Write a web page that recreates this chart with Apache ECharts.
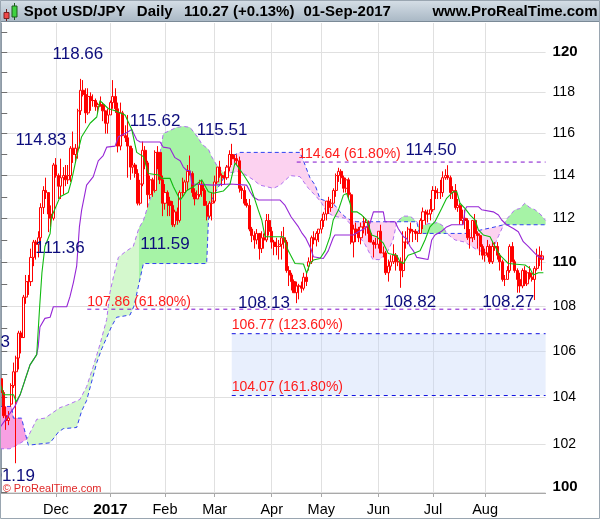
<!DOCTYPE html>
<html><head><meta charset="utf-8">
<script src="https://cdn.jsdelivr.net/npm/echarts@6/dist/echarts.min.js"></script>
<style>html,body{margin:0;padding:0;background:#fff}#c{width:600px;height:519px}</style>
</head><body><div id="c"></div>
<script>
// x = trading-day index, 0 = 01-Nov-2016
const monthStarts = [22,44,66,86,109,129,152,174,195];
const monthLabels = ['Dec','2017','Feb','Mar','Apr','May','Jun','Jul','Aug'];
const priceTicks = [100,101,102,103,104,105,106,107,108,109,110,111,112,113,114,115,116,117,118,119,120,121];
const priceLabels = [100,102,104,106,108,110,112,114,116,118,120];

// daily OHLC: [open, high, low, close]
const nov16 = [[104.8,104.9,104.0,104.2],[104.2,104.3,103.1,103.2],[103.2,103.6,102.6,103.0],[103.0,103.4,102.8,103.1],[103.7,104.6,103.6,104.5],[104.5,105.5,104.4,105.1],[105.1,105.8,101.19,105.7],[105.7,106.9,105.2,106.8],[106.8,106.9,105.9,106.6],[106.6,108.5,106.6,108.4],[108.4,109.4,108.1,109.1],[109.1,109.4,108.5,109.1],[109.1,110.6,108.9,110.2],[110.2,111.0,109.8,110.9],[110.9,111.0,110.1,110.8],[110.8,111.4,110.2,111.1],[111.1,112.7,110.9,112.5],[112.5,113.5,112.2,113.3],[113.3,113.9,112.9,113.2],[113.2,113.2,111.36,112.2],[112.2,112.6,111.6,112.0],[112.0,114.6,111.9,114.5]];
const dec16 = [[114.5,114.83,113.9,114.0],[114.0,114.1,112.9,113.5],[113.5,114.8,112.9,113.9],[113.9,114.4,113.1,114.0],[114.0,114.5,113.5,113.8],[113.8,114.5,113.6,114.0],[114.0,115.4,113.7,115.3],[115.3,116.1,114.6,115.0],[115.0,115.5,114.6,115.3],[115.3,117.2,114.8,117.1],[117.1,118.66,116.9,118.1],[118.1,118.6,117.8,117.9],[117.9,118.2,116.5,117.0],[117.0,118.2,116.9,117.8],[117.8,118.0,117.1,117.6],[117.6,117.9,117.3,117.6],[117.6,117.7,117.1,117.3],[117.3,117.5,117.0,117.4],[117.4,117.8,117.3,117.4],[117.4,117.5,116.6,117.1],[117.1,117.1,116.0,116.5],[116.5,117.2,116.0,116.9]];
const jan17 = [[116.9,117.6,116.9,117.5],[117.5,118.6,117.2,117.8],[117.8,118.2,117.0,117.2],[117.2,117.5,115.1,115.4],[115.4,117.5,115.2,117.0],[117.0,117.1,115.9,115.9],[115.9,116.4,115.6,115.8],[115.8,116.9,113.9,115.4],[115.4,115.4,113.8,114.4],[114.4,115.3,114.1,114.5],[114.5,114.6,113.9,114.1],[114.1,114.3,112.6,112.7],[112.7,113.8,112.6,113.6],[113.6,115.62,113.5,115.2],[115.2,115.4,114.3,114.6],[114.6,114.7,112.5,113.1],[113.1,114.0,112.9,113.8],[113.8,113.9,113.0,113.3],[113.3,115.2,113.2,115.1],[115.1,115.4,114.3,115.1],[115.1,115.1,113.6,113.8],[113.8,114.0,112.1,112.7]];
const feb17 = [[112.7,113.6,112.4,113.2],[113.2,113.3,112.1,112.8],[112.8,113.0,112.1,112.6],[112.6,112.8,111.6,111.7],[111.7,112.4,111.59,112.3],[112.3,112.5,111.7,111.9],[111.9,113.3,111.8,113.2],[113.2,113.9,113.0,113.2],[113.2,113.8,113.2,113.7],[113.7,114.5,113.3,114.2],[114.2,114.95,114.0,114.1],[114.1,114.2,113.0,113.2],[113.2,113.4,112.6,112.9],[112.9,113.3,112.9,113.1],[113.1,113.8,113.0,113.6],[113.6,113.8,113.0,113.3],[113.3,113.4,112.6,112.6],[112.6,112.8,111.9,112.1],[112.1,112.8,112.0,112.7],[112.7,113.2,111.9,112.8]];
const mar17 = [[112.8,114.0,112.7,113.7],[113.7,114.4,113.6,114.4],[114.4,114.7,113.9,114.0],[114.0,114.1,113.5,113.9],[113.9,114.2,113.6,113.9],[113.9,114.5,113.8,114.4],[114.4,115.2,114.2,115.0],[115.0,115.51,114.5,114.8],[114.8,115.0,114.6,114.8],[114.8,115.0,114.5,114.7],[114.7,114.9,113.2,113.4],[113.4,113.5,112.9,113.3],[113.3,113.5,112.6,112.7],[112.7,112.9,112.5,112.6],[112.6,112.9,111.4,111.5],[111.5,111.6,110.9,111.2],[111.2,111.4,110.6,111.0],[111.0,111.5,110.8,111.3],[111.3,111.3,110.1,110.6],[110.6,111.4,110.4,111.1],[111.1,111.3,110.6,111.0],[111.0,112.2,110.9,111.9],[111.9,112.2,111.2,111.4]];
const apr17 = [[111.4,111.6,110.6,110.9],[110.9,111.0,110.3,110.7],[110.7,111.1,110.3,110.7],[110.7,111.0,110.1,110.8],[110.8,111.4,110.1,111.1],[111.1,111.6,110.6,110.9],[110.9,111.0,109.5,109.6],[109.6,109.8,108.9,109.4],[109.4,109.5,108.7,109.1],[109.1,109.2,108.6,108.6],[108.6,109.1,108.13,108.9],[108.9,109.0,108.3,108.9],[108.9,109.1,108.6,108.8],[108.8,109.5,108.7,109.3],[109.3,109.5,108.9,109.1],[109.8,110.2,109.6,110.0],[110.0,111.2,109.9,111.1],[111.1,111.4,110.8,111.0],[111.0,111.4,110.7,111.3],[111.3,111.5,110.9,111.5]];
const may17 = [[111.5,112.0,111.3,111.9],[111.9,112.3,111.6,112.2],[112.2,112.8,111.9,112.8],[112.8,113.0,112.2,112.5],[112.5,112.9,112.3,112.7],[112.7,113.4,112.7,113.3],[113.3,114.1,113.0,114.0],[114.0,114.37,113.7,114.2],[114.2,114.3,113.6,113.9],[113.9,114.0,113.2,113.4],[113.4,113.9,113.2,113.8],[113.8,113.9,112.9,113.1],[113.1,113.2,110.8,110.9],[110.9,111.7,110.2,111.5],[111.5,111.8,110.9,111.3],[111.3,111.6,110.9,111.1],[111.1,111.8,110.8,111.6],[111.6,112.1,111.3,111.6],[111.6,112.0,111.2,111.8],[111.8,111.9,110.9,111.3],[111.3,111.4,110.9,110.9],[110.9,111.0,110.2,110.8],[110.8,111.1,110.6,110.8]];
const jun17 = [[110.8,111.4,110.6,111.4],[111.4,111.7,110.4,110.4],[110.4,110.7,110.2,110.4],[110.4,110.5,109.4,109.5],[109.5,110.1,109.1,109.8],[109.8,110.3,109.6,110.0],[110.0,110.8,109.9,110.3],[110.3,110.4,109.6,110.0],[110.0,110.3,109.8,110.0],[110.0,110.2,108.82,109.6],[109.6,111.4,109.3,110.9],[110.9,111.4,110.6,110.9],[110.9,111.6,110.8,111.5],[111.5,111.8,111.3,111.4],[111.4,111.5,110.9,111.4],[111.4,111.5,111.0,111.3],[111.3,111.4,110.9,111.3],[111.3,112.0,111.3,111.9],[111.9,112.5,111.5,112.3],[112.3,112.4,111.7,112.2],[112.2,112.4,111.8,112.2],[112.2,112.9,111.9,112.4]];
const jul17 = [[112.4,113.5,112.3,113.3],[113.3,113.5,112.9,113.2],[113.2,113.4,112.9,113.2],[113.2,113.8,112.9,113.2],[113.2,114.2,113.0,113.9],[113.9,114.3,113.8,114.0],[114.0,114.49,113.8,113.9],[113.9,114.0,112.9,113.2],[113.2,113.5,112.9,113.3],[113.3,113.6,112.4,112.5],[112.5,112.9,112.3,112.6],[112.6,112.7,111.7,111.9],[111.9,112.4,111.7,112.0],[112.0,112.4,111.5,111.9],[111.9,112.0,111.0,111.1],[111.1,111.5,110.6,111.1],[111.1,111.9,110.9,111.9],[111.9,112.2,111.0,111.3],[111.3,111.4,110.6,111.2],[111.2,111.3,110.3,110.7],[110.7,110.8,110.1,110.3]];
const aug17 = [[110.3,110.6,110.0,110.4],[110.4,111.0,110.2,110.7],[110.7,110.8,109.9,110.0],[110.0,110.9,109.9,110.7],[110.7,110.9,110.5,110.7],[110.7,110.9,110.1,110.3],[110.3,110.4,109.6,110.0],[110.0,110.1,109.1,109.2],[109.2,109.4,108.9,109.2],[109.2,109.8,109.2,109.6],[109.6,110.8,109.5,110.7],[110.7,110.9,110.0,110.0],[110.0,110.1,109.5,109.6],[109.6,109.7,108.6,109.2],[109.2,109.5,108.6,108.9],[108.9,109.7,108.8,109.6],[109.6,109.8,108.9,109.0],[109.0,109.6,108.9,109.5],[109.5,109.8,109.2,109.3],[109.3,109.5,109.1,109.2],[109.2,109.8,108.27,109.7],[109.7,110.6,109.6,110.3],[110.3,110.7,109.8,110.1]];
const sep17 = [[110.1,110.5,109.6,110.27]];

// Ichimoku lines: [day index, price]
const tenkan = [[-0.5,104.6],[1,104.1],[5,104.1],[6,103.8],[7.6,104.1],[9.6,104.75],[11.6,105.4],[14.3,105.85],[15.5,108.0],[16.4,109.5],[17.6,110.7],[19.7,111.3],[20.3,112.07],[23.7,113.0],[27,113.2],[28.4,113.8],[30.4,114.9],[32.4,115.85],[35.8,116.5],[38.5,116.8],[39.8,117.6],[43.2,117.2],[45.9,117.1],[49.9,116.9],[52.6,116.2],[54.6,115.1],[57.3,114.9],[59.3,114.1],[63.3,114.03],[64.7,113.87],[68,113.87],[69.4,113.47],[72.1,112.85],[73.1,113.0],[74.8,113.3],[77.4,113.47],[80.8,113.8],[83.5,113.24],[85.5,113.17],[89.5,113.27],[92.2,113.6],[94.2,114.6],[95.5,114.4],[97.6,114.05],[100.3,113.55],[102.3,112.85],[103.6,112.38],[105,111.92],[106.3,111.15],[113.7,111.15],[115.7,110.5],[118.4,109.92],[121.8,109.9],[123.1,109.48],[124.4,109.92],[125.8,110.08],[128.5,110.15],[130.5,110.5],[132.5,111.15],[133.8,111.92],[135.9,112.38],[137.9,113.08],[139.2,113.16],[140.6,112.7],[141.3,112.3],[143.3,112.3],[145.3,112.15],[147.3,111.92],[149.3,111.23],[151.3,111.15],[154,110.85],[156,110.38],[159.4,110.3],[160.7,110.0],[162.1,109.92],[164,110.3],[166.1,110.38],[168.8,110.5],[170.8,111.0],[172.8,111.6],[174.8,111.84],[177.5,112.46],[179.5,112.93],[182.2,113.24],[183.6,113.24],[184.9,112.7],[186.9,112.46],[189,112.15],[191,111.92],[192.3,111.46],[194.3,111.23],[197,111.15],[199,110.7],[201,110.3],[203,110.08],[204.4,109.92],[211.1,109.85],[213.1,109.7],[214.4,109.4],[216.5,109.5],[218.5,109.5]];
const kijun = [[-0.5,102.7],[5.5,103.6],[7.6,104.1],[9.6,104.75],[11.6,105.4],[14.3,105.85],[14.9,106.2],[15.6,107.07],[17.6,107.45],[19.7,107.5],[21,107.97],[26.4,107.97],[27.7,108.42],[29.1,109.07],[30.4,109.8],[31.5,111.6],[32.4,112.38],[34.4,113.55],[37.1,113.95],[39.1,114.7],[41.1,114.95],[42.5,115.35],[45.9,115.4],[47.2,115.85],[49.9,116.0],[52.6,116.2],[54.6,115.7],[56,115.6],[64,115.6],[65.3,115.35],[68,115.3],[70,114.85],[72.1,114.7],[73.4,114.4],[74.8,114.24],[76.1,114.24],[76.8,113.6],[85.5,113.55],[92.2,113.6],[98.9,113.55],[100.3,113.24],[101.6,113.0],[103.6,112.85],[112.4,112.85],[114.4,112.6],[116.8,112.07],[119.8,111.6],[121.3,111.3],[122.8,111.07],[124.8,110.6],[125.8,110.23],[129.8,110.15],[131.8,110.5],[133.8,111.1],[134.5,111.23],[141.9,111.23],[143.9,111.38],[146.6,111.53],[148.6,111.77],[150,112.3],[154,112.3],[154.7,111.84],[158.7,111.84],[160,111.53],[162.1,111.15],[163.4,111.07],[164.8,110.7],[166.1,110.5],[167.5,110.2],[172,110.1],[173.5,111.0],[174.8,111.23],[177.5,111.4],[179.5,111.6],[181.5,111.7],[186.2,111.7],[186.9,112.38],[187.6,112.54],[192.3,112.54],[193.6,112.4],[198.3,112.3],[200.4,112.15],[201.7,111.92],[203.7,111.7],[206.4,111.53],[208.4,111.38],[210.4,110.92],[212.4,110.7],[215.1,110.38],[216.5,110.23],[218.5,110.15]];
// Senkou span B (blue dashed) and span A (violet dashed)
const spanB = [[-0.5,103.6],[4.2,103.6],[4.9,103.1],[8.2,103.1],[10.3,102.2],[10.9,101.95],[19.7,102.05],[23,102.5],[25,102.65],[30.4,102.7],[32.4,103.4],[34.4,103.85],[38.5,105.5],[40.5,106.1],[42.5,106.6],[44.5,107.1],[46.5,107.5],[51.9,107.6],[53.5,108.0],[55.5,109.0],[57.3,109.92],[82.8,109.92],[83.5,111.9],[84.1,112.6],[86.2,113.2],[89.5,113.85],[90.3,114.1],[92.2,114.7],[93.5,114.95],[96.2,115.1],[120.4,115.1],[121.8,114.7],[124.4,113.9],[126.5,113.55],[128.5,112.9],[132.5,112.75],[134.5,112.6],[136.5,112.3],[138.6,112.07],[140.6,111.92],[143.3,111.84],[159.5,111.84],[167.5,111.84],[168.5,111.3],[179.5,111.3],[187.6,111.3],[191,111.4],[195,111.5],[199,111.6],[202.5,111.7],[219.4,111.7]];
const spanA = [[-0.5,101.8],[3.5,101.8],[6.2,101.95],[10.3,102.2],[14.3,103.05],[17.6,103.1],[23.7,103.55],[26.4,103.65],[31.7,103.9],[34.4,104.45],[37,105.3],[39.8,106.3],[42.5,107.4],[43.8,108.6],[45.2,109.3],[47.2,110.2],[49.9,110.45],[53.2,110.7],[55.5,111.55],[57.3,111.9],[60,112.9],[61.5,113.5],[64,115.05],[65.3,116.0],[70.7,116.3],[73.4,116.35],[76.1,116.3],[79.4,115.8],[80.8,115.5],[83.5,115.25],[84.8,114.9],[86.8,114.5],[88.9,114.2],[90.3,114.1],[93,114.15],[96.2,114.2],[99,114.0],[101.6,113.8],[104.3,113.55],[109.7,113.4],[112.4,113.55],[116.5,114.0],[120.4,113.95],[123.8,113.4],[127.1,113.0],[129.2,112.7],[131,112.3],[134,112.1],[138.6,112.0],[141,111.7],[143.4,111.3],[146.6,110.8],[149.8,110.1],[152.7,110.1],[155.9,110.5],[157.9,111.0],[159.5,111.84],[162,112.1],[164.8,112.1],[167.5,111.84],[168.5,111.6],[172,111.75],[176,111.8],[178,111.65],[179.5,111.3],[182.9,111.0],[186.9,110.9],[191,110.6],[195,110.4],[198.2,110.6],[200.5,111.2],[202.5,111.7],[204,112.0],[207,112.4],[209,112.45],[211,112.7],[213,112.5],[215.1,112.4],[217.2,112.2],[219.4,111.9]];
const cloudBreaks = [-0.5,10.3,55.5,90.3,159.5,179.5,202.5,219.4];

// horizontal levels: [start index, price]
const purpleLevels = [[119.1,114.64],[34.7,107.86]];
const blueLevels = [[92.9,106.77],[92.9,104.07]];
// annotations: [index, price, text]
const navyLabels = [[30.9,119.89,'118.66'],[16.0,115.69,'114.83'],[23.7,110.63,'111.36'],[62.0,116.61,'115.62'],[66.0,110.81,'111.59'],[89.0,116.17,'115.51'],[173.2,115.21,'114.50'],[105.9,108.14,'108.13'],[164.8,108.18,'108.82'],[204.3,108.18,'108.27']];
const navyCutLabels = [[3.53,106.40,'105.53'],[13.6,100.66,'101.19']];
const redLabels = [[119.73,115.02,'114.64 (61.80%)'],[34.69,108.19,'107.86 (61.80%)'],[92.89,107.155,'106.77 (123.60%)'],[92.89,104.424,'104.07 (161.80%)']];

const XMAX = 219.4;
const FONT = 'Liberation Sans';
const all = [].concat(nov16, dec16, jan17, feb17, mar17, apr17, may17, jun17, jul17, aug17, sep17);
const candleData = all.map((d, k) => [k, d[0], d[3], d[2], d[1]]);

function inRange(arr, a, b) { return arr.filter(p => p[0] >= a - 1e-9 && p[0] <= b + 1e-9); }
function mean(arr) { return arr.reduce((s, p) => s + p[1], 0) / arr.length; }

const chart = echarts.init(document.getElementById('c'), null, {renderer: 'canvas'});
const lineBase = {type: 'line', showSymbol: false, symbol: 'none', silent: true, animation: false};
const labelSeries = (rows, color, size, align) => ({
  type: 'scatter', z: 6, silent: true, symbolSize: 1, clip: false,
  itemStyle: {color: 'rgba(0,0,0,0)', opacity: 1},
  data: rows.map(d => ({value: [d[0], d[1]], label: {formatter: d[2]}})),
  label: {show: true, position: 'inside', color: color, opacity: 1, fontSize: size, fontFamily: FONT, align: align, verticalAlign: 'middle', textBorderWidth: 0}
});

const option = {
  animation: false,
  backgroundColor: '#ffffff',
  textStyle: {fontFamily: FONT},
  grid: {left: 0, top: 23, width: 545.6, height: 470},
  xAxis: {
    type: 'value', min: -0.5, max: XMAX,
    axisLine: {show: true, lineStyle: {color: '#a9a9a9'}},
    axisTick: {show: true, length: 4, lineStyle: {color: '#a9a9a9'}, customValues: monthStarts},
    axisLabel: {
      show: true, customValues: monthStarts, margin: 9, fontSize: 14.5, color: '#000', fontFamily: FONT,
      formatter: v => { const k = monthStarts.indexOf(Math.round(v)); const t = monthLabels[k] || ''; return k === 1 ? '{b|' + t + '}' : t; },
      rich: {b: {fontWeight: 'bold', fontSize: 15.5, fontFamily: FONT, color: '#000'}}
    },
    splitLine: {show: true, lineStyle: {color: '#e0e0e0', width: 1}}
  },
  yAxis: [{
    type: 'log', logBase: 10, min: 99.95, max: 121.44, position: 'right',
    axisLine: {show: true, lineStyle: {color: '#8e9aa6', width: 1}},
    axisTick: {show: true, length: 6, lineStyle: {color: '#707070'}, customValues: priceTicks},
    axisLabel: {
      show: true, margin: 7, color: '#000', fontSize: 14, fontFamily: FONT, customValues: priceLabels,
      formatter: v => { const r = Math.round(v); return r === 100 ? '{c|' + r + '}' : (r % 10 === 0 ? '{b|' + r + '}' : String(r)); },
      rich: {
        b: {fontWeight: 'bold', fontSize: 15, fontFamily: FONT, color: '#000'},
        c: {fontWeight: 'bold', fontSize: 15, fontFamily: FONT, color: '#000', padding: [0, 0, 9, 0]}
      }
    },
    splitLine: {show: false}
  }, {
    type: 'log', logBase: 10, min: 99.95, max: 121.44, position: 'right',
    axisLine: {show: false},
    axisTick: {show: false, customValues: priceLabels},
    axisLabel: {show: false, customValues: priceLabels},
    splitLine: {show: true, lineStyle: {color: '#e0e0e0', width: 1}}
  }],
  series: [
    {
      type: 'custom', name: 'cloud', z: 1, silent: true, clip: true,
      data: cloudBreaks.slice(0, -1).map(a => [a, 110]),
      encode: {x: 0, y: 1},
      renderItem: function (params, api) {
        const k = params.dataIndex;
        const a = cloudBreaks[k], b = cloudBreaks[k + 1];
        const top = inRange(spanA, a, b), bot = inRange(spanB, a, b);
        const pts = top.map(p => api.coord(p)).concat(bot.slice().reverse().map(p => api.coord(p)));
        const bull = mean(top) > mean(bot);
        const early = b <= 55.5 + 1e-9;
        const fill = bull ? (early ? '#d4f8cd' : '#a6f3a6') : (early ? '#f7a0e3' : '#fcd2f0');
        return {type: 'polygon', shape: {points: pts}, style: {fill: fill}};
      }
    },
    Object.assign({}, lineBase, {name: 'spanB', z: 2, data: spanB, lineStyle: {color: '#3040f0', width: 1, type: [4, 3]}}),
    Object.assign({}, lineBase, {name: 'spanA', z: 2, data: spanA, lineStyle: {color: '#b070f0', width: 1, type: [4, 3]}}),
    {
      type: 'candlestick', name: 'USD/JPY', z: 3, silent: true, barWidth: 2.6,
      data: candleData, encode: {x: 0, y: [1, 2, 3, 4]},
      itemStyle: {color: '#ffffff', color0: '#ff0000', borderColor: '#ff0000', borderColor0: '#ff0000', borderWidth: 1}
    },
    Object.assign({}, lineBase, {name: 'kijun', z: 4, data: kijun, lineStyle: {color: '#9626d6', width: 1.1}}),
    Object.assign({}, lineBase, {name: 'tenkan', z: 4, data: tenkan, lineStyle: {color: '#10bb10', width: 1.1}}),
    ...purpleLevels.map(l => Object.assign({}, lineBase, {z: 5, data: [[l[0], l[1]], [XMAX, l[1]]], lineStyle: {color: '#8010cc', width: 1, type: [4, 4]}})),
    ...blueLevels.map((l, k) => Object.assign({}, lineBase, {z: 5, data: [[l[0], l[1]], [XMAX, l[1]]], lineStyle: {color: '#1010e0', width: 1, type: [4, 4]},
      markArea: k === 0 ? {silent: true, itemStyle: {color: 'rgba(190,208,248,0.35)'}, data: [[{coord: [blueLevels[0][0], blueLevels[0][1]]}, {coord: [XMAX, blueLevels[1][1]]}]]} : undefined})),
    labelSeries(navyLabels, '#0c0c7c', 17, 'center'),
    labelSeries(navyCutLabels, '#0c0c7c', 17, 'right'),
    labelSeries(redLabels, '#ff1c1c', 14, 'left')
  ],
  graphic: [
    {type: 'rect', silent: true, z: 100, shape: {x: 0, y: 0, width: 600, height: 22},
      style: {fill: new echarts.graphic.LinearGradient(0, 0, 0, 1, [{offset: 0, color: '#d6dfe7'}, {offset: 1, color: '#a8b7c4'}])}},
    {type: 'line', silent: true, z: 101, shape: {x1: 0, y1: 21.5, x2: 600, y2: 21.5}, style: {stroke: '#7b8a97', lineWidth: 1}},
    {type: 'line', silent: true, z: 101, shape: {x1: 6.5, y1: 9, x2: 6.5, y2: 21}, style: {stroke: '#6a2020', lineWidth: 1}},
    {type: 'rect', silent: true, z: 102, shape: {x: 4, y: 12.5, width: 5, height: 6}, style: {fill: '#f04848', stroke: '#7a2020', lineWidth: 1}},
    {type: 'line', silent: true, z: 101, shape: {x1: 14.5, y1: 3, x2: 14.5, y2: 20}, style: {stroke: '#1f5a1f', lineWidth: 1}},
    {type: 'rect', silent: true, z: 102, shape: {x: 12, y: 6, width: 5, height: 11}, style: {fill: '#3fd23f', stroke: '#1f5a1f', lineWidth: 1}},
    {type: 'text', silent: true, z: 103, x: 23.8, y: 12, style: {text: 'Spot USD/JPY', font: 'bold 15px "Liberation Sans"', fill: '#000', align: 'left', verticalAlign: 'middle'}},
    {type: 'text', silent: true, z: 103, x: 136.8, y: 12, style: {text: 'Daily', font: 'bold 15px "Liberation Sans"', fill: '#000', align: 'left', verticalAlign: 'middle'}},
    {type: 'text', silent: true, z: 103, x: 183.9, y: 12, style: {text: '110.27 (+0.13%)', font: 'bold 15px "Liberation Sans"', fill: '#000', align: 'left', verticalAlign: 'middle'}},
    {type: 'text', silent: true, z: 103, x: 303.4, y: 12, style: {text: '01-Sep-2017', font: 'bold 15px "Liberation Sans"', fill: '#000', align: 'left', verticalAlign: 'middle'}},
    {type: 'text', silent: true, z: 103, x: 597.5, y: 12, style: {text: 'www.ProRealTime.com', font: 'bold 15px "Liberation Sans"', fill: '#000', align: 'right', verticalAlign: 'middle'}},
    {type: 'text', silent: true, z: 103, x: 2.7, y: 489, style: {text: '\u00a9 ProRealTime.com', font: '11px "Liberation Sans"', fill: '#e02828', align: 'left', verticalAlign: 'middle'}},
    {type: 'rect', silent: true, z: 104, shape: {x: 0.5, y: 0.5, width: 599, height: 518}, style: {fill: 'none', stroke: '#9aa6b1', lineWidth: 1}}
  ]
};
chart.setOption(option);
</script>
</body></html>
